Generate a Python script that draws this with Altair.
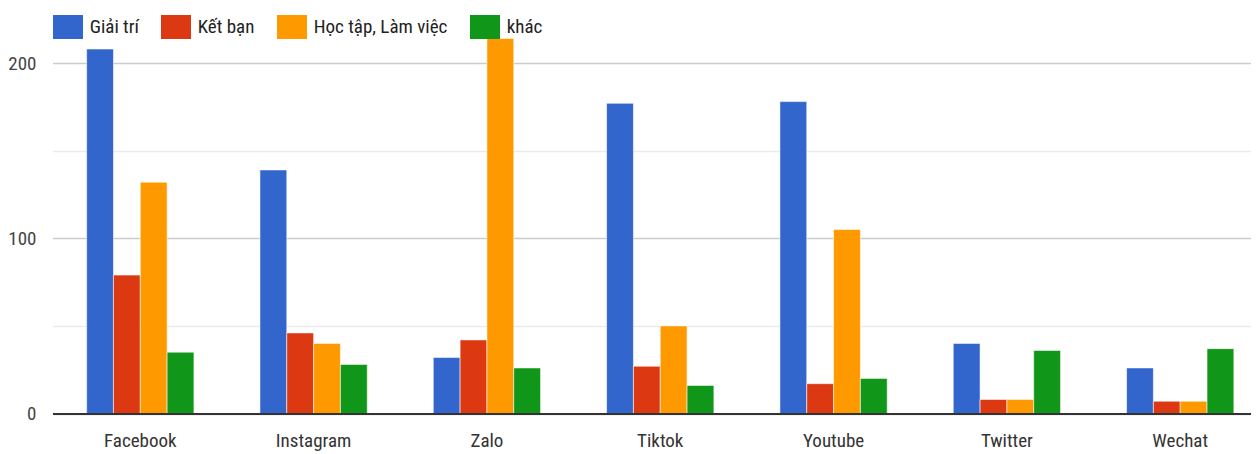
import altair as alt
import pandas as pd

platforms = ["Facebook", "Instagram", "Zalo", "Tiktok", "Youtube", "Twitter", "Wechat"]
series = ["Giải trí", "Kết bạn", "Học tập, Làm việc", "khác"]
giai_tri = [208, 139, 32, 177, 178, 40, 26]
ket_ban = [79, 46, 42, 27, 17, 8, 7]
hoc_tap = [132, 40, 214, 50, 105, 8, 7]
khac = [35, 28, 26, 16, 20, 36, 37]
colors = ["#3366cc", "#dc3912", "#ff9900", "#109618"]
y_ticks = [0, 50, 100, 150, 200]

rows = []
for s, vals in zip(series, [giai_tri, ket_ban, hoc_tap, khac]):
    for p, v in zip(platforms, vals):
        rows.append({"platform": p, "series": s, "value": v})
df = pd.DataFrame(rows)

FONT = "Liberation Sans Narrow, Arial Narrow, Roboto Condensed, Roboto, sans-serif"

chart = alt.Chart(df).mark_bar(stroke="#ffffff", strokeWidth=1, strokeOpacity=0.55).encode(
    x=alt.X("platform:N", sort=platforms, title=None,
            scale=alt.Scale(paddingInner=0.381, paddingOuter=0.197, range=[0, 1215.5]),
            axis=alt.Axis(labelAngle=0, ticks=False, tickSize=0, labelPadding=18,
                          labelFontSize=19, labelColor="#333333", labelFont=FONT,
                          domainColor="#333333", domainWidth=2, zindex=1, grid=False)),
    xOffset=alt.XOffset("series:N", sort=series,
                        scale=alt.Scale(paddingInner=0, paddingOuter=0)),
    y=alt.Y("value:Q", title=None, scale=alt.Scale(domain=[0, 220], nice=False),
            axis=alt.Axis(values=y_ticks,
                          labelExpr="datum.value % 100 == 0 ? datum.label : ''",
                          ticks=False, tickSize=0, domain=False, labelPadding=16.5,
                          labelFontSize=19, labelColor="#444444", labelFont=FONT,
                          gridColor={"condition": {"test": "datum.value % 100 === 0", "value": "#cccccc"},
                                     "value": "#ebebeb"},
                          gridWidth=1.5)),
    color=alt.Color("series:N", sort=series,
                    scale=alt.Scale(domain=series, range=colors),
                    legend=alt.Legend(title=None, orient="none", legendX=3.5, legendY=-13,
                                      direction="horizontal",
                                      symbolType="M-1.25,-1L1.25,-1L1.25,1L-1.25,1Z",
                                      symbolSize=576, symbolStrokeWidth=0, symbolOpacity=1,
                                      labelFontSize=19, labelFont=FONT, labelColor="#222222",
                                      labelOffset=9.7, columnPadding=22, padding=0,
                                      labelLimit=300)),
).properties(
    width=1198.5, height=385.5,
    padding={"left": 44.5, "top": 20, "right": 0, "bottom": 46},
    autosize=alt.AutoSizeParams(type="none"),
).configure_view(stroke=None)

chart.save("out.html", embed_options={"renderer": "svg", "actions": False})
